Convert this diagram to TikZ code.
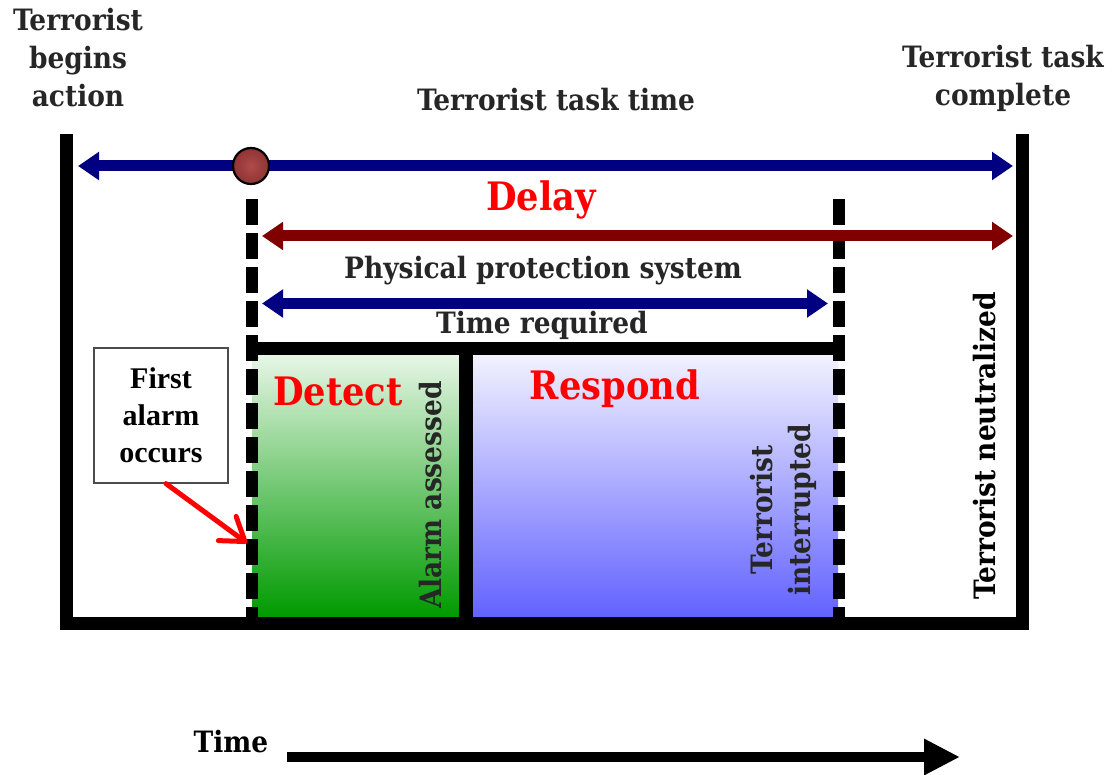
\documentclass[tikz,border=0pt]{standalone}
\usepackage{fontspec}
\usetikzlibrary{arrows.meta}
\newfontfamily\lblfont{DejaVuSerifCondensed-Bold}[Extension=.ttf]
\newfontfamily\boxfont{Liberation Serif}
\definecolor{navyarrow}{HTML}{000080}
\definecolor{maroonarrow}{HTML}{800000}
\definecolor{lbltext}{HTML}{262626}
\definecolor{greentop}{HTML}{E6F6E6}
\definecolor{greenbot}{HTML}{009A00}
\definecolor{bluetop}{HTML}{F2F2FF}
\definecolor{bluebot}{HTML}{6262FF}
\definecolor{dotin}{HTML}{B04A4A}
\definecolor{dotout}{HTML}{8E3434}

\begin{document}
\begin{tikzpicture}[x=0.5pt,y=-0.5pt,
  bar/.style={line width=6.5pt},
  dashbar/.style={line width=6pt,dash pattern=on 13pt off 4pt},
  span/.style={line width=5.5pt,{Triangle[width=13.5pt,length=10.5pt]}-{Triangle[width=13.5pt,length=10.5pt]}},
  lbl/.style={font=\lblfont\fontsize{14.7}{19}\selectfont,text=lbltext,align=center,inner sep=0pt},
  phase/.style={font=\lblfont\fontsize{19.6}{24}\selectfont,text=red,inner sep=0pt}]
%\draw[step=50,gray,very thin] (0,0) grid (1114,775);
\useasboundingbox (0,0) rectangle (1114,775);
\shade[top color=greentop,bottom color=greenbot] (252,355) rectangle (459,617);
\shade[top color=bluetop,bottom color=bluebot] (473,355) rectangle (838,617);
\coordinate (topL) at (66.5,134);
\coordinate (topR) at (1022,134);
\coordinate (baseL) at (60,623.5);
\coordinate (baseR) at (1028,623.5);
\coordinate (dashL) at (252,199);
\coordinate (dashR) at (838.5,199);
\coordinate (hit) at (247,543);
\draw[bar] (topL) -- (66.5,630);
\draw[bar] (topR) -- (1022,630);
\draw[bar] (baseL) -- (baseR);
\draw[dashbar] (dashL) -- (252,617);
\draw[dashbar] (dashR) -- (838.5,617);
\draw[bar] (246,348.5) -- (845,348.5);
\draw[line width=7pt] (466,348.5) -- (466,617);
% time spans
\coordinate (taskL) at (78,166);
\coordinate (taskR) at (1013,166);
\coordinate (delayL) at (262,236);
\coordinate (delayR) at (1013,236);
\coordinate (ppsL) at (262,303.5);
\coordinate (ppsR) at (828,303.5);
\draw[span,navyarrow] (taskL) -- (taskR);
\draw[span,maroonarrow] (delayL) -- (delayR);
\draw[span,navyarrow] (ppsL) -- (ppsR);
\shade[inner color=dotin,outer color=dotout,draw=black,line width=1.1pt] (251,166) circle (9pt);
\node[lbl] (begins) at (78,58) {Terrorist\\begins\\action};
\node[lbl] (tasktime) at (556,100) {Terrorist task time};
\node[lbl] (complete) at (1003,78) {Terrorist task\\complete};
\node[phase] (delay) at (541,200) {Delay};
\node[lbl] (pps) at (543,271) {Physical protection system};
\node[lbl] (required) at (542,325) {Time required};
\node[phase] (detect) at (338,391) {Detect};
\node[phase] (respond) at (615,389) {Respond};
\node[lbl,rotate=90] (assessed) at (431,495) {Alarm assessed};
\node[lbl,rotate=90] (interrupted) at (783,510) {Terrorist\\interrupted};
\node[lbl,rotate=90,text=black] (neutralized) at (985,446) {Terrorist neutralized};
\node[draw=black!70,line width=0.6pt,fill=white,minimum width=67pt,minimum height=67.5pt,
  font=\boxfont\bfseries\fontsize{15}{18.5}\selectfont,align=center] (alarm) at (161,415.5) {First\\alarm\\occurs};
\draw[red,line width=2.5pt,line cap=round,-{Straight Barb[length=11pt,width=15pt,round]}] ([xshift=2.5pt]alarm.south) -- (hit);
% time axis
\node[lbl,text=black] (time) at (231,742) {Time};
\coordinate (axisL) at (287,757);
\coordinate (axisR) at (960,757);
\draw[line width=5pt,-{Triangle[width=17pt,length=18pt]}] (axisL) -- (axisR);
\end{tikzpicture}
\end{document}
